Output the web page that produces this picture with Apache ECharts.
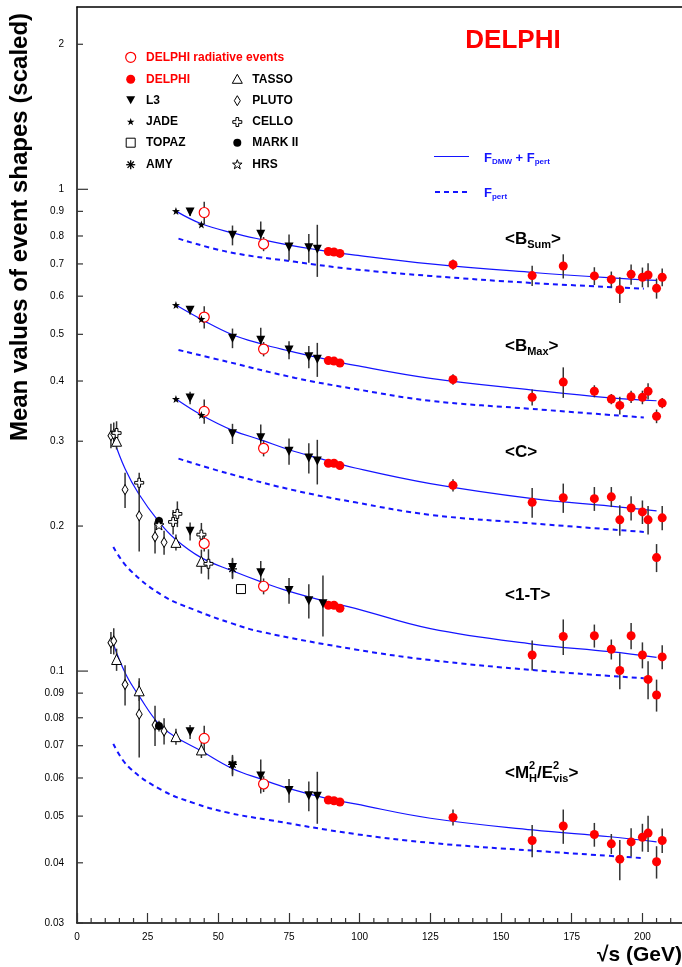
<!DOCTYPE html>
<html><head><meta charset="utf-8">
<script src="https://cdn.jsdelivr.net/npm/echarts@6/dist/echarts.min.js"></script>
<style>html,body{margin:0;padding:0;background:#fff;overflow:hidden}#c{width:682px;height:967px}</style>
</head><body><div id="c"></div>
<script>
// ---------------- data ----------------
const xTickLabels = ['0','25','50','75','100','125','150','175','200'];
const xMinorTicks = [5,10,15,20,30,35,40,45,55,60,65,70,80,85,90,95,105,110,115,120,130,135,140,145,155,160,165,170,180,185,190,195,205,210];
const yTickValues = [0.03,0.04,0.05,0.06,0.07,0.08,0.09,0.1,0.2,0.3,0.4,0.5,0.6,0.7,0.8,0.9,1,2];
const yTickLabels = ['0.03','0.04','0.05','0.06','0.07','0.08','0.09','0.1','0.2','0.3','0.4','0.5','0.6','0.7','0.8','0.9','1','2'];
const yMajorTicks = [0.1, 1];

// [sqrt(s) GeV, mean value (scaled), error]; observables in order <B_Sum>, <B_Max>, <C>, <1-T>, <M_H^2/E_vis^2>
const delphi = [
 [88.9,0.743,0.004],[90.9,0.741,0.004],[93.0,0.736,0.004],[133,0.698,0.017],[161,0.662,0.032],[172,0.693,0.040],[183,0.661,0.028],[189,0.650,0.025],[192,0.619,0.038],[196,0.666,0.032],[200,0.657,0.031],[202,0.664,0.038],[205,0.623,0.030],[207,0.657,0.028],
 [88.9,0.441,0.003],[90.9,0.440,0.003],[93.0,0.436,0.003],[133,0.403,0.010],[161,0.370,0.014],[172,0.398,0.029],[183,0.381,0.011],[189,0.367,0.009],[192,0.356,0.015],[196,0.371,0.011],[200,0.370,0.012],[202,0.381,0.015],[205,0.338,0.011],[207,0.360,0.009],
 [88.9,0.270,0.002],[90.9,0.270,0.002],[93.0,0.267,0.002],[133,0.243,0.007],[161,0.224,0.016],[172,0.229,0.016],[183,0.228,0.013],[189,0.230,0.011],[192,0.206,0.015],[196,0.218,0.0125],[200,0.214,0.012],[202,0.206,0.014],[205,0.172,0.0115],[207,0.208,0.012],
 [88.9,0.137,0.001],[90.9,0.137,0.001],[93.0,0.135,0.001],[161,0.108,0.0077],[172,0.118,0.010],[183,0.1184,0.0065],[189,0.111,0.0053],[192,0.1003,0.0086],[196,0.1184,0.0074],[200,0.108,0.0067],[202,0.0961,0.0087],[205,0.0892,0.0068],[207,0.107,0.0061],
 [88.9,0.0540,0.0005],[90.9,0.0538,0.0005],[93.0,0.0535,0.0005],[133,0.0497,0.0019],[161,0.0445,0.0034],[172,0.0477,0.0039],[183,0.0458,0.0026],[189,0.0438,0.0021],[192,0.0407,0.0039],[196,0.0442,0.003],[200,0.0452,0.003],[202,0.0461,0.004],[205,0.0402,0.0031],[207,0.0445,0.0026]
];
const delphiRad = [[45,0.895,0.047],[66,0.770,0.026],[45,0.543,0.029],[66,0.466,0.016],[45,0.346,0.020],[66,0.290,0.011],[45,0.184,0.007],[66,0.150,0.0057],[45,0.0725,0.0045],[66,0.0583,0.0022]];
const l3 = [
 [40,0.897,0.017],[55,0.803,0.038],[65,0.807,0.050],[75,0.759,0.047],[82,0.756,0.052],[85,0.751,0.093],
 [40,0.561,0.011],[55,0.491,0.023],[65,0.486,0.030],[75,0.464,0.020],[82,0.449,0.024],[85,0.444,0.036],
 [40,0.369,0.011],[55,0.311,0.015],[65,0.305,0.020],[75,0.286,0.018],[82,0.277,0.020],[85,0.273,0.029],
 [40,0.195,0.0084],[55,0.164,0.0078],[65,0.160,0.0092],[75,0.147,0.0091],[82,0.140,0.0114],[87,0.138,0.020],
 [40,0.0748,0.0025],[55,0.0635,0.003],[65,0.0606,0.0049],[75,0.0565,0.0032],[82,0.0551,0.0039],[85,0.0550,0.0068]
];
const jade = [[35,0.901,0],[44,0.845,0],[35,0.575,0],[44,0.538,0],[35,0.367,0],[44,0.340,0]];
const pluto = [[12,0.308,0.018],[13,0.310,0.018],[17,0.238,0.020],[22,0.210,0.033],[27.6,0.190,0.0145],[30.8,0.185,0.0106],
 [12,0.1145,0.006],[13,0.1155,0.0072],[17,0.0938,0.009],[22,0.0814,0.0152],[27.6,0.0773,0.0074],[30.8,0.0751,0.0047]];
const tasso = [[14,0.300,0.0115],[35,0.185,0.007],[44,0.169,0.0097],[14,0.1057,0.0056],[22,0.0910,0.0043],[35,0.0731,0.0028],[44,0.0686,0.0026]];
const cello = [[14,0.312,0.018],[22,0.246,0.012],[34,0.204,0.012],[35.5,0.212,0.013],[44,0.192,0.011],[46.5,0.167,0.012]];
const markII = [[29,0.205,0.004],[29,0.0769,0.002]];
const hrs = [[29,0.201,0]];
const amy = [[55,0.163,0.0078],[55,0.0640,0.003]];
const topaz = [[58,0.148,0]];

// fit curves [sqrt(s), value]
const dmwBSum = [[35,0.901],[44,0.848],[55,0.812],[65,0.787],[75,0.766],[85,0.749],[98.4,0.730],[125,0.700],[161.2,0.672],[188.6,0.655],[205,0.647]];
const pertBSum = [[35.9,0.790],[53.6,0.741],[77.2,0.707],[98.4,0.682],[125,0.661],[161.2,0.639],[200.5,0.622]];
const dmwBMax = [[35,0.575],[44,0.537],[55,0.499],[65,0.478],[75,0.462],[85,0.448],[98.4,0.431],[125,0.405],[161.2,0.383],[188.6,0.369],[205,0.364]];
const pertBMax = [[35.9,0.464],[53.6,0.438],[77.2,0.406],[98.4,0.385],[125,0.364],[161.2,0.350],[200.5,0.336]];
const dmwC = [[35,0.367],[44,0.340],[55,0.316],[65,0.302],[75,0.288],[85,0.277],[98.4,0.264],[125,0.245],[161.2,0.228],[188.6,0.220],[205,0.215]];
const pertC = [[35.9,0.276],[53.6,0.257],[77.2,0.237],[98.4,0.224],[125,0.211],[161.2,0.2025],[200.5,0.1945]];
const dmwT = [[12.85,0.304],[17,0.263],[21.7,0.234],[29,0.204],[34.7,0.188],[43.9,0.172],[54.9,0.1615],[65.4,0.153],[74.8,0.1465],[89,0.139],[98.4,0.135],[125,0.1225],[161.2,0.1138],[188.6,0.1097],[205,0.1068]];
const pertT = [[12.85,0.181],[18.2,0.1633],[30,0.1438],[41.8,0.1338],[54.8,0.1256],[65.5,0.1205],[98.4,0.1109],[125,0.1054],[161.2,0.1005],[200.5,0.0966]];
const dmwM = [[12.85,0.1138],[17.4,0.0981],[22.1,0.0885],[29,0.0776],[34.7,0.0731],[43.7,0.0684],[54.9,0.0628],[65.4,0.0596],[74.8,0.0571],[89,0.0543],[98.4,0.0530],[125,0.0495],[161.2,0.0468],[188.6,0.0453],[205,0.0442]];
const pertM = [[12.85,0.0706],[18.2,0.0633],[30,0.0566],[41.8,0.0531],[53.6,0.0508],[67.7,0.0491],[98.4,0.0459],[125,0.0440],[161.2,0.0424],[200.5,0.0409]];

// ---------------- styling ----------------
const FF = "'Liberation Sans', Arial, Helvetica, sans-serif";
const BLUE = '#1414ff';
const RED = '#ff0000';
// marker shapes in a 20x20 box
const SHAPES = {
  invTri: [[0,0],[20,0],[10,18]],
  tri: [[10,0],[20,18],[0,18]],
  star: [[10,0],[12.35,6.76],[19.51,6.91],[13.8,11.24],[15.88,18.09],[10,14],[4.12,18.09],[6.2,11.24],[0.49,6.91],[7.65,6.76]],
  diamond: [[10,0],[20,10],[10,20],[0,10]],
  rect: [[0,0],[20,0],[20,20],[0,20]],
  cross: [[7,0],[13,0],[13,7],[20,7],[20,13],[13,13],[13,20],[7,20],[7,13],[0,13],[0,7],[7,7]]
};
const ASTER = [[[0,10],[20,10]],[[10,0],[10,20]],[[3,3],[17,17]],[[3,17],[17,3]]];
function polyPath(pts){ return 'path://M' + pts.map(p => p[0] + ',' + p[1]).join(' L') + ' Z'; }
const ASTER_PATH = 'path://' + ASTER.map(s => 'M' + s[0].join(',') + ' L' + s[1].join(',')).join(' ');

const EXPS = [
  {name:'DELPHI radiative events', data:delphiRad, shape:'circle', size:[10,10], fill:'#fff', stroke:RED, lw:1.2, col:0, row:0, tcol:RED},
  {name:'DELPHI', data:delphi, shape:'circle', size:[9,9], fill:RED, stroke:RED, lw:0, col:0, row:1, tcol:RED},
  {name:'L3', data:l3, shape:'invTri', size:[9,9], fill:'#000', stroke:'#000', lw:0, col:0, row:2},
  {name:'JADE', data:jade, shape:'star', size:[8,8], fill:'#000', stroke:'#000', lw:0, col:0, row:3},
  {name:'TOPAZ', data:topaz, shape:'rect', size:[9,9], fill:'#fff', stroke:'#000', lw:1, col:0, row:4},
  {name:'AMY', data:amy, shape:'asterisk', size:[9,9], fill:'#000', stroke:'#000', lw:1.3, col:0, row:5},
  {name:'TASSO', data:tasso, shape:'tri', size:[10,10], fill:'#fff', stroke:'#000', lw:1, col:1, row:1},
  {name:'PLUTO', data:pluto, shape:'diamond', size:[6,10], fill:'#fff', stroke:'#000', lw:1, col:1, row:2},
  {name:'CELLO', data:cello, shape:'cross', size:[9,9], fill:'#fff', stroke:'#000', lw:1, col:1, row:3},
  {name:'MARK II', data:markII, shape:'circle', size:[8,8], fill:'#000', stroke:'#000', lw:0, col:1, row:4},
  {name:'HRS', data:hrs, shape:'star', size:[10,10], fill:'#fff', stroke:'#000', lw:1, col:1, row:5}
];
function seriesSymbol(shape){
  if (shape === 'circle') return 'circle';
  if (shape === 'asterisk') return ASTER_PATH;
  return polyPath(SHAPES[shape]);
}
const FITS = [
  [dmwBSum,false],[pertBSum,true],[dmwBMax,false],[pertBMax,true],[dmwC,false],[pertC,true],
  [dmwT,false],[pertT,true],[dmwM,false],[pertM,true]
];

const chart = echarts.init(document.getElementById('c'), null, {renderer:'canvas', width:682, height:967});

const mctx = document.createElement('canvas').getContext('2d');
function tw(t, font){ mctx.font = font; return mctx.measureText(t).width; }
function richLabel(x, y, parts, size, color){
  const els = []; let cx = x;
  const big = `bold ${size}px ${FF}`;
  const sm = `bold ${Math.round(size*0.62)}px ${FF}`;
  for (const p of parts){
    const [t, kind, t2] = p;
    if (kind === 'n'){
      els.push({type:'text', x:cx, y:y, style:{text:t, font:big, fill:color, align:'left', verticalAlign:'middle'}});
      cx += tw(t, big);
    } else if (kind === 'sub'){
      els.push({type:'text', x:cx, y:y+size*0.33, style:{text:t, font:sm, fill:color, align:'left', verticalAlign:'middle'}});
      cx += tw(t, sm);
    } else if (kind === 'supsub'){
      els.push({type:'text', x:cx, y:y-size*0.4, style:{text:t, font:sm, fill:color, align:'left', verticalAlign:'middle'}});
      els.push({type:'text', x:cx, y:y+size*0.33, style:{text:t2, font:sm, fill:color, align:'left', verticalAlign:'middle'}});
      cx += Math.max(tw(t, sm), tw(t2, sm));
    }
  }
  return els;
}
function legendMarker(e, cx, cy){
  const style = {fill:e.fill, stroke:e.lw ? e.stroke : null, lineWidth:e.lw};
  const w = e.size[0], h = e.size[1];
  const tr = p => [cx - w/2 + p[0]*w/20, cy - h/2 + p[1]*h/20];
  if (e.shape === 'circle') return [{type:'circle', shape:{cx, cy, r:w/2}, style}];
  if (e.shape === 'asterisk') return ASTER.map(s => {
    const a = tr(s[0]), b = tr(s[1]);
    return {type:'line', shape:{x1:a[0], y1:a[1], x2:b[0], y2:b[1]}, style:{stroke:e.stroke, lineWidth:e.lw}};
  });
  return [{type:'polygon', shape:{points:SHAPES[e.shape].map(tr)}, style}];
}

const series = [];
FITS.forEach(([d, dashed]) => series.push({
  type:'line', data:d, smooth:0.4, showSymbol:false, silent:true, z:2,
  lineStyle: dashed ? {color:BLUE, width:2, type:[5,4]} : {color:BLUE, width:1.2}
}));
const errData = [];
EXPS.forEach(e => e.data.forEach(d => { if (d[2] > 0) errData.push([d[0], d[1], d[2]]); }));
series.push({
  type:'custom', z:3, silent:true, data:errData,
  renderItem:(params, api) => {
    const x = api.value(0), v = api.value(1), er = api.value(2);
    const a = api.coord([x, v - er]), b = api.coord([x, v + er]);
    return {type:'line', shape:{x1:a[0], y1:a[1], x2:b[0], y2:b[1]}, style:{stroke:'#333', lineWidth:1.5}};
  }
});
EXPS.forEach(e => series.push({
  type:'scatter', name:e.name, z:5, silent:true,
  data:e.data.map(d => [d[0], d[1]]),
  symbol:seriesSymbol(e.shape), symbolSize:e.size,
  itemStyle:{color:e.fill, borderColor:e.stroke, borderWidth:e.lw, opacity:1}
}));
// y-axis ticks and labels drawn through the log scale
series.push({
  type:'custom', z:6, silent:true, data:yTickValues.map(v => [0, v]),
  renderItem:(params, api) => {
    const v = api.value(1);
    const p = api.coord([0, v]);
    const major = yMajorTicks.indexOf(v) >= 0;
    return {type:'group', children:[
      {type:'line', shape:{x1:p[0], y1:p[1], x2:p[0] + (major ? 11 : 6), y2:p[1]}, style:{stroke:'#333', lineWidth:1.2}},
      {type:'text', x:p[0]-13, y:p[1], style:{text:yTickLabels[params.dataIndex], font:`10px ${FF}`, fill:'#000', align:'right', verticalAlign:'middle'}}
    ]};
  }
});
// x-axis minor ticks through the x scale
series.push({
  type:'custom', z:6, silent:true, data:xMinorTicks.map(x => [x, 0.03]),
  renderItem:(params, api) => {
    const p = api.coord([api.value(0), 0.03]);
    return {type:'line', shape:{x1:p[0], y1:p[1], x2:p[0], y2:p[1]-5}, style:{stroke:'#333', lineWidth:1.2}};
  }
});

// legend and annotations
const graphics = [];
const colX = [130.7, 237.3], textX = [146, 252.3], rowY = [57.3, 79.3, 100.7, 122, 142.7, 164.7];
EXPS.forEach(e => {
  graphics.push(...legendMarker(e, colX[e.col], rowY[e.row]));
  graphics.push({type:'text', x:textX[e.col], y:rowY[e.row], style:{text:e.name, font:`bold 12px ${FF}`, fill:e.tcol || '#000', align:'left', verticalAlign:'middle'}});
});
graphics.push({type:'text', x:513, y:41, style:{text:'DELPHI', font:`bold 26px ${FF}`, fill:RED, align:'center', verticalAlign:'middle'}});
graphics.push({type:'line', shape:{x1:434, y1:156.5, x2:469, y2:156.5}, style:{stroke:BLUE, lineWidth:1.2}});
graphics.push({type:'line', shape:{x1:435, y1:192, x2:469, y2:192}, style:{stroke:BLUE, lineWidth:2, lineDash:[5,4]}});
graphics.push(...richLabel(484, 158, [['F','n'],['DMW','sub'],[' + F','n'],['pert','sub']], 13, BLUE));
graphics.push(...richLabel(484, 193, [['F','n'],['pert','sub']], 13, BLUE));
graphics.push(...richLabel(505, 239, [['<B','n'],['Sum','sub'],['>','n']], 17, '#000'));
graphics.push(...richLabel(505, 346, [['<B','n'],['Max','sub'],['>','n']], 17, '#000'));
graphics.push(...richLabel(505, 452, [['<C>','n']], 17, '#000'));
graphics.push(...richLabel(505, 595, [['<1-T>','n']], 17, '#000'));
graphics.push(...richLabel(505, 773, [['<M','n'],['2','supsub','H'],['/E','n'],['2','supsub','vis'],['>','n']], 17, '#000'));
graphics.push({type:'text', x:20, y:227, rotation:Math.PI/2, style:{text:'Mean values of event shapes (scaled)', font:`bold 24px ${FF}`, fill:'#000', align:'center', verticalAlign:'middle'}});
graphics.push({type:'text', x:682, y:955, style:{text:'\u221As (GeV)', font:`bold 21px ${FF}`, fill:'#000', align:'right', verticalAlign:'middle'}});
// the reference frame is open on the right: keep the right edge clear
graphics.push({type:'rect', z:100, shape:{x:679, y:9, width:4, height:912}, style:{fill:'#fff'}});

chart.setOption({
  animation:false,
  backgroundColor:'#fff',
  grid:{show:false, borderWidth:0, left:77, top:7, right:0, bottom:44, containLabel:false, outerBoundsMode:'none'},
  xAxis:[{
    type:'value', min:0, max:214, interval:25,
    axisLine:{show:true, onZero:false, lineStyle:{color:'#000', width:1.5}},
    axisTick:{show:true, inside:true, length:10, lineStyle:{color:'#333', width:1.2},
      interval:(i, v) => Number(v) % 25 === 0},
    minorTick:{show:false},
    axisLabel:{show:true, margin:9, fontSize:10, fontFamily:FF, color:'#000', showMaxLabel:false,
      formatter:v => { const i = Math.round(v/25); return (v % 25 === 0 && i < xTickLabels.length) ? xTickLabels[i] : ''; }},
    splitLine:{show:false}
  },{
    type:'value', position:'top', min:0, max:214,
    axisLine:{show:true, onZero:false, lineStyle:{color:'#000', width:1.5}},
    axisTick:{show:false}, axisLabel:{show:false}, splitLine:{show:false}
  }],
  yAxis:{
    type:'log', logBase:10, min:0.03, max:2.39,
    axisLine:{show:true, onZero:false, lineStyle:{color:'#000', width:1.5}},
    axisTick:{show:false}, axisLabel:{show:false}, splitLine:{show:false}, minorTick:{show:false}
  },
  graphic:graphics,
  series:series
});
</script></body></html>
